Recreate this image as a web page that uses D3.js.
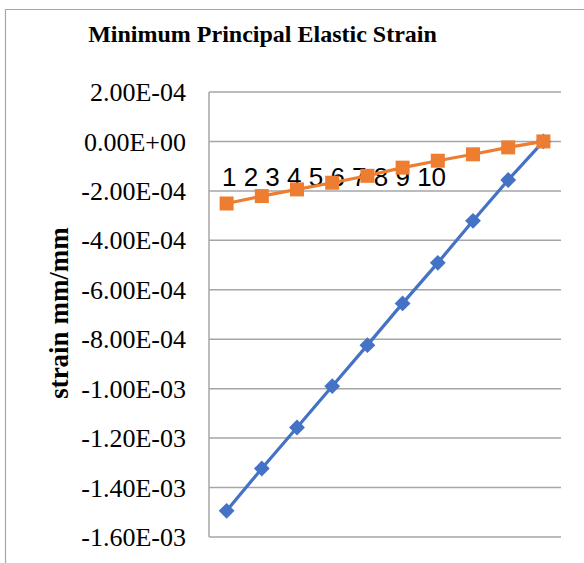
<!DOCTYPE html>
<html><head><meta charset="utf-8">
<script src="https://cdn.jsdelivr.net/npm/d3@7"></script>
<style>body{margin:0;background:#fff}</style>
</head><body>
<svg id="c" width="584" height="563"></svg>
<script>
const categories = [1,2,3,4,5,6,7,8,9,10];
const seriesBlue = [-1.494e-3,-1.323e-3,-1.157e-3,-9.90e-4,-8.24e-4,-6.55e-4,-4.91e-4,-3.21e-4,-1.56e-4,0.0];
const seriesOrange = [-2.51e-4,-2.21e-4,-1.94e-4,-1.67e-4,-1.39e-4,-1.06e-4,-7.8e-5,-5.2e-5,-2.4e-5,0.0];
const yTicks = [2e-4,0,-2e-4,-4e-4,-6e-4,-8e-4,-1e-3,-1.2e-3,-1.4e-3,-1.6e-3];
const yTickLabels = ["2.00E-04","0.00E+00","-2.00E-04","-4.00E-04","-6.00E-04","-8.00E-04","-1.00E-03","-1.20E-03","-1.40E-03","-1.60E-03"];
const title = "Minimum Principal Elastic Strain";
const yTitle = "strain mm/mm";

const svg = d3.select("#c");
const L=209, R=561, T=92, B=537;
const x = d3.scaleBand().domain(categories).range([L,R]);
const y = d3.scaleLinear().domain([-1.6e-3,2e-4]).range([B,T]);
const cx = d => x(d)+x.bandwidth()/2;

// outer border
svg.append("path").attr("d","M5.5,563V9.5H584").attr("fill","none").attr("stroke","#a6a6a6").attr("stroke-width",1.2);

// gridlines
svg.append("g").selectAll("line").data(yTicks).join("line")
  .attr("x1",L).attr("x2",R).attr("y1",d=>y(d)).attr("y2",d=>y(d))
  .attr("stroke","#a6a6a6").attr("stroke-width",1.5);
svg.append("line").attr("x1",L).attr("x2",L).attr("y1",T).attr("y2",B)
  .attr("stroke","#a6a6a6").attr("stroke-width",1.5);

// y tick labels
svg.append("g").selectAll("text").data(yTicks).join("text")
  .attr("x",186).attr("y",d=>y(d)).attr("dy","0.35em")
  .attr("text-anchor","end")
  .attr("font-family","'Liberation Serif','Times New Roman',serif")
  .attr("font-size",26).attr("fill","#000")
  .text((d,i)=>yTickLabels[i]);

// title
svg.append("text").attr("x",262.5).attr("y",42).attr("text-anchor","middle")
  .attr("font-family","'Liberation Serif','Times New Roman',serif")
  .attr("font-weight","bold").attr("font-size",24).text(title);

// y axis title
svg.append("text").attr("transform","translate(68,313) rotate(-90)")
  .attr("text-anchor","middle")
  .attr("font-family","'Liberation Serif','Times New Roman',serif")
  .attr("font-weight","bold").attr("font-size",27).text(yTitle);

// category labels (drawn as one line)
svg.append("text").attr("x",222).attr("y",186)
  .attr("font-family","'Liberation Sans',Arial,sans-serif")
  .attr("font-size",26).attr("fill","#000")
  .text(categories.join(" "));

const line = d3.line().x((d,i)=>cx(categories[i])).y(d=>y(d));

// blue series
svg.append("path").datum(seriesBlue).attr("d",line).attr("fill","none")
  .attr("stroke","#4472C4").attr("stroke-width",3.2);
svg.append("g").selectAll("path").data(seriesBlue).join("path")
  .attr("d",d3.symbol(d3.symbolSquare,125)())
  .attr("transform",(d,i)=>`translate(${cx(categories[i])},${y(d)}) rotate(45)`)
  .attr("fill","#4472C4");

// orange series
svg.append("path").datum(seriesOrange).attr("d",line).attr("fill","none")
  .attr("stroke","#ED7D31").attr("stroke-width",3.2);
svg.append("g").selectAll("rect").data(seriesOrange).join("rect")
  .attr("x",(d,i)=>cx(categories[i])-7).attr("y",d=>y(d)-7)
  .attr("width",14).attr("height",14).attr("fill","#ED7D31");
</script>
</body></html>
